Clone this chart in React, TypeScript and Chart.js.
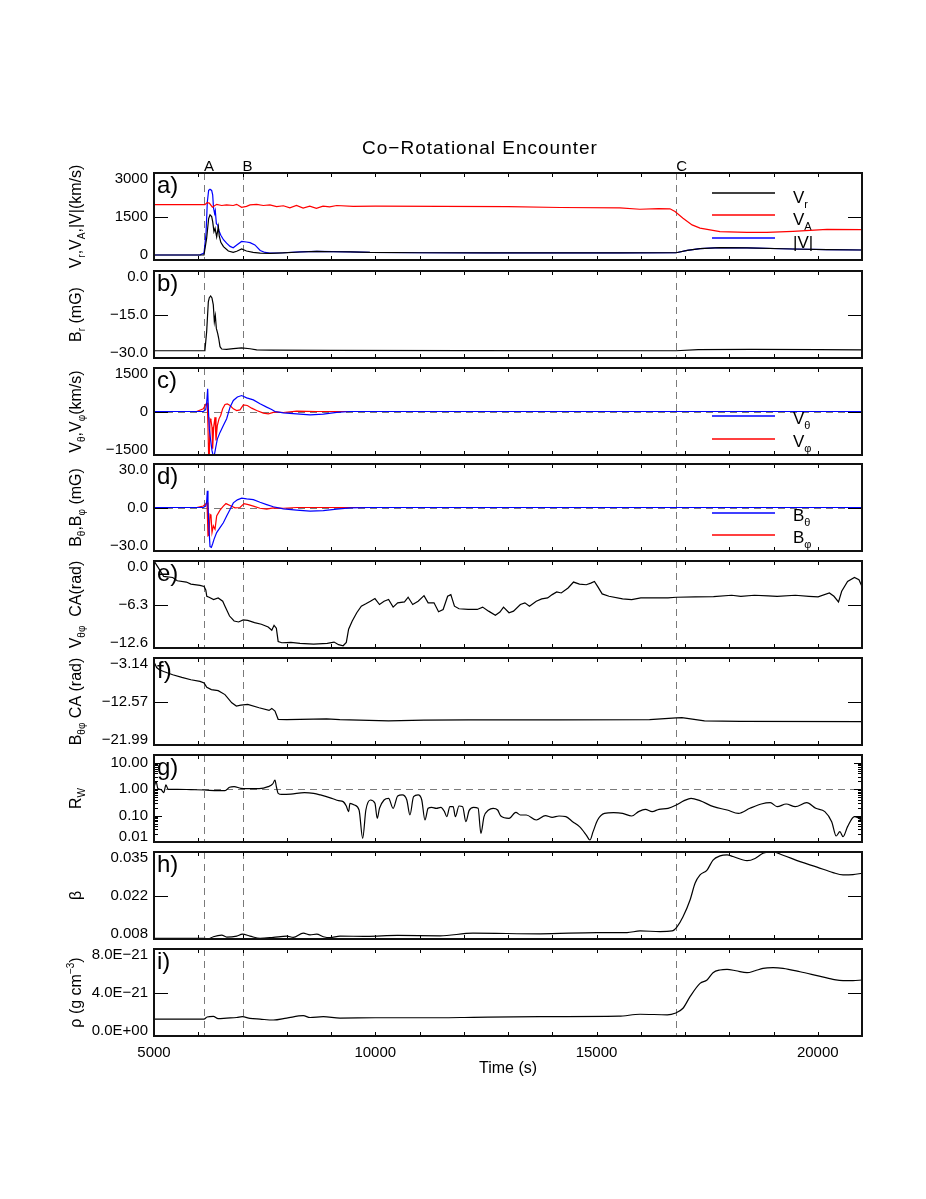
import React, { useEffect, useRef } from "react";
import { Chart, registerables } from "chart.js";

Chart.register(...registerables);

// ---------------- data ----------------
const X_MIN = 5000;
const X_MAX = 21000;
const xTickValues = [5000, 10000, 15000, 20000];
const xMinorStep = 1000;
const eventTimes = [6130, 7000, 16800];
const eventLabels = ["A", "B", "C"];

// a) velocities (km/s)
const vrTime = [5000, 6130, 6190, 6235, 6266, 6303, 6326, 6355, 6380, 6416, 6454, 6475, 6510, 6570, 6680, 6790, 6870, 6980, 7090, 7240, 7400, 7620, 7920, 8300, 8680, 9050, 9430, 9880, 11000, 12500, 14000, 15500, 16800, 17050, 17340, 17790, 18400, 19440, 20200, 21000];
const vrVals = [172, 180, 750, 1430, 1560, 1500, 1320, 980, 1090, 800, 1150, 820, 610, 460, 310, 265, 300, 380, 310, 265, 240, 230, 245, 275, 295, 285, 280, 260, 250, 245, 245, 248, 250, 330, 390, 425, 420, 380, 360, 345];
const vaTime = [5000, 6150, 6200, 6250, 6320, 6416, 6530, 6640, 6790, 6868, 6980, 7090, 7170, 7320, 7470, 7620, 7770, 7923, 8070, 8220, 8370, 8520, 8670, 8820, 8970, 9130, 9500, 10000, 11500, 13000, 14180, 15530, 15980, 16400, 16660, 16775, 16955, 17160, 17340, 17790, 18400, 18850, 19440, 20210, 21000];
const vaVals = [1910, 1910, 1975, 1960, 1820, 1920, 1880, 1900, 1880, 1920, 1815, 1850, 1900, 1920, 1880, 1900, 1840, 1870, 1800, 1880, 1790, 1860, 1780, 1860, 1830, 1880, 1850, 1860, 1850, 1840, 1810, 1800, 1750, 1770, 1765, 1670, 1440, 1210, 1100, 980, 955, 955, 990, 1055, 1045];
const vmagTime = [5000, 6040, 6130, 6175, 6205, 6235, 6266, 6303, 6326, 6345, 6370, 6385, 6410, 6440, 6470, 6510, 6570, 6640, 6720, 6790, 6870, 6980, 7090, 7170, 7280, 7400, 7510, 7620, 7920, 8300, 8680, 9050, 9430, 9880, 11000, 12500, 14000, 15500, 16800, 17050, 17340, 17790, 18400, 19440, 20200, 21000];
const vmagVals = [172, 180, 240, 900, 2000, 2400, 2440, 2400, 2250, 1800, 1600, 1700, 1250, 1200, 1000, 850, 700, 580, 470, 420, 520, 640, 620, 600, 520, 330, 260, 240, 250, 280, 300, 290, 280, 260, 250, 245, 245, 248, 250, 330, 390, 425, 420, 380, 360, 345];

// b) Br (mG)
const brTime = [5000, 6150, 6190, 6228, 6250, 6280, 6310, 6340, 6364, 6386, 6409, 6439, 6462, 6492, 6530, 6640, 6793, 6980, 7170, 7320, 7620, 9000, 12000, 16800, 17300, 18500, 20000, 21000];
const brVals = [-27.5, -27.5, -20.9, -10.6, -9.2, -8.6, -9.3, -11.7, -17.5, -15.4, -19.8, -21.5, -23.2, -26.1, -26.9, -27.0, -26.8, -26.5, -26.8, -27.2, -27.3, -27.4, -27.45, -27.5, -27.1, -27.0, -27.1, -27.2];

// c) V_theta, V_phi (km/s)
const vthTime = [5000, 6115, 6168, 6190, 6213, 6228, 6250, 6281, 6311, 6341, 6364, 6394, 6431, 6492, 6567, 6642, 6718, 6793, 6884, 6981, 7094, 7245, 7396, 7546, 7659, 7734, 7923, 8224, 8526, 8827, 9128, 9430, 21000];
const vthVals = [0, 0, 60, 300, 780, 100, -600, -1000, -1350, -1550, -1500, -1250, -950, -720, -480, -250, 150, 380, 500, 550, 470, 400, 265, 150, 70, 0, -45, -80, -115, -90, -30, 0, 0];
const vphTime = [5000, 5964, 6115, 6175, 6205, 6220, 6235, 6250, 6266, 6288, 6311, 6326, 6348, 6379, 6401, 6431, 6469, 6507, 6552, 6605, 6657, 6718, 6793, 6868, 6944, 7019, 7109, 7207, 7320, 7471, 7584, 7734, 7923, 8224, 8676, 21000];
const vphVals = [0, 0, 92, 264, 287, -540, -1550, -1550, -253, -310, -540, -1287, -540, -195, -1000, -483, -253, -138, 92, 241, 264, 207, 92, 34, 57, 230, 207, 115, 34, -57, -80, -11, -34, 11, 0, 0];

// d) B_theta, B_phi (mG)
const bthTime = [5000, 6115, 6168, 6190, 6205, 6220, 6243, 6266, 6296, 6326, 6356, 6416, 6492, 6567, 6642, 6718, 6793, 6884, 6981, 7094, 7245, 7396, 7546, 7697, 7923, 8224, 8526, 8827, 9128, 9430, 9882, 21000];
const bthVals = [0, 0, 1, 4, 11.6, 2, -15, -27, -27.5, -25, -22, -17.3, -13.9, -10.5, -5.9, -1.4, 3.2, 5.3, 6.4, 5.9, 5.4, 3.6, 2, 0.5, -0.9, -1.8, -2.5, -2.1, -1.1, -0.2, 0, 0];
const bphTime = [5000, 5964, 6115, 6168, 6198, 6220, 6243, 6266, 6288, 6311, 6341, 6379, 6416, 6492, 6567, 6627, 6718, 6831, 6944, 7034, 7132, 7245, 7396, 7546, 7697, 7923, 8224, 21000];
const bphVals = [0, 0, 1, 2.5, 3.4, -19.5, -19, -4.8, -5.5, -17.3, -12.7, -15, -5.9, -1.8, 0.9, 2.7, 1.4, -0.2, 0, 2.7, 2, 0.9, -0.5, -1.1, -0.2, -0.5, 0, 0];

// e) V_thetaphi cumulative angle (rad)
const vcaTime = [5000, 5100, 5218, 5423, 5526, 5731, 5834, 6039, 6132, 6170, 6193, 6245, 6347, 6450, 6553, 6604, 6707, 6810, 6912, 7015, 7118, 7272, 7426, 7580, 7662, 7713, 7765, 7806, 7888, 8093, 8299, 8607, 8915, 9069, 9172, 9274, 9346, 9398, 9480, 9582, 9685, 9788, 9891, 9993, 10096, 10199, 10301, 10404, 10507, 10661, 10743, 10846, 10969, 11102, 11195, 11328, 11431, 11534, 11636, 11708, 11790, 11893, 12099, 12304, 12427, 12561, 12715, 12817, 12899, 13023, 13125, 13279, 13382, 13485, 13639, 13762, 13896, 13999, 14101, 14204, 14358, 14481, 14615, 14769, 14871, 14953, 15025, 15128, 15282, 15590, 15795, 16001, 16309, 16617, 16802, 17234, 17645, 18055, 18261, 18569, 18877, 19082, 19493, 19801, 20007, 20263, 20366, 20469, 20541, 20674, 20829, 20931, 21000];
const vcaVals = [0.0, -1.0, -2.24, -2.39, -2.86, -3.05, -3.34, -3.53, -3.68, -4.2, -5.11, -5.25, -5.58, -5.35, -5.82, -6.54, -7.97, -8.69, -8.83, -8.54, -8.59, -8.93, -9.16, -9.55, -10.02, -9.31, -9.74, -11.65, -11.84, -11.79, -11.93, -12.03, -11.93, -11.74, -12.12, -12.27, -11.79, -9.88, -8.69, -7.49, -6.54, -6.2, -5.82, -5.44, -6.3, -5.82, -5.58, -6.68, -6.06, -5.92, -5.25, -6.3, -5.82, -5.01, -6.06, -6.06, -7.35, -7.02, -5.11, -4.87, -6.54, -6.92, -7.02, -7.02, -6.68, -7.26, -7.87, -7.4, -6.68, -7.49, -7.26, -6.3, -6.06, -6.54, -5.82, -5.49, -5.35, -4.87, -4.49, -4.63, -3.91, -3.05, -3.34, -3.44, -3.2, -2.96, -3.68, -4.77, -5.11, -5.49, -5.58, -5.35, -5.35, -5.35, -5.25, -5.2, -5.15, -4.96, -5.11, -4.96, -5.06, -5.11, -4.96, -5.11, -5.2, -4.63, -5.11, -5.92, -4.39, -2.96, -2.39, -2.72, -3.68];

// f) B_thetaphi cumulative angle (rad)
const bcaTime = [5000, 5060, 5120, 5218, 5423, 5629, 5834, 6039, 6132, 6193, 6296, 6450, 6604, 6758, 6861, 6963, 7118, 7375, 7600, 7662, 7734, 7806, 8000, 8900, 9200, 10300, 11100, 12100, 14100, 16200, 16802, 16930, 17440, 18260, 21000];
const bcaVals = [-4.0, -5.2, -5.7, -6.07, -6.78, -7.35, -7.85, -8.21, -8.57, -9.49, -9.99, -10.21, -11.07, -12.85, -13.56, -13.35, -13.21, -13.92, -14.49, -14.06, -14.64, -16.42, -16.49, -16.35, -16.5, -16.78, -16.6, -16.56, -16.56, -16.49, -16.13, -16.06, -16.78, -16.85, -16.92];

// g) R_W
const rwTime = [5000, 5050, 5085, 5160, 5220, 5270, 5320, 5530, 5834, 6132, 6450, 6604, 6707, 6810, 6963, 7118, 7375, 7580, 7683, 7734, 7765, 7806, 7888, 8093, 8401, 8607, 8761, 9018, 9172, 9274, 9346, 9398, 9428, 9531, 9634, 9716, 9788, 9891, 9993, 10045, 10096, 10199, 10301, 10404, 10507, 10610, 10713, 10784, 10866, 10969, 11051, 11123, 11195, 11277, 11380, 11482, 11564, 11616, 11688, 11760, 11811, 11893, 11975, 12048, 12120, 12222, 12325, 12387, 12458, 12561, 12664, 12766, 12838, 13023, 13177, 13279, 13413, 13639, 13845, 14000, 14153, 14307, 14461, 14615, 14769, 14851, 14923, 15025, 15180, 15385, 15590, 15795, 15950, 16104, 16258, 16412, 16617, 16802, 16980, 17137, 17337, 17645, 17953, 18209, 18466, 18723, 18928, 19082, 19287, 19493, 19750, 19955, 20160, 20315, 20418, 20500, 20572, 20674, 20829, 20931, 21000];
const rwVals = [1.2, 1.95, 1.09, 0.97, 0.745, 1.46, 1.0, 1.0, 0.97, 0.94, 0.89, 0.89, 1.19, 1.26, 1.09, 1.06, 1.06, 1.26, 1.59, 2.25, 1.26, 0.7, 0.64, 0.66, 0.745, 0.7, 0.61, 0.454, 0.37, 0.34, 0.232, 0.142, 0.293, 0.254, 0.164, 0.0138, 0.164, 0.393, 0.293, 0.079, 0.19, 0.393, 0.454, 0.19, 0.56, 0.61, 0.393, 0.106, 0.525, 0.61, 0.393, 0.0684, 0.19, 0.207, 0.19, 0.207, 0.142, 0.0915, 0.219, 0.219, 0.0915, 0.232, 0.219, 0.059, 0.155, 0.207, 0.19, 0.0213, 0.0915, 0.164, 0.19, 0.164, 0.097, 0.079, 0.134, 0.106, 0.106, 0.0684, 0.1, 0.0863, 0.097, 0.0915, 0.059, 0.0382, 0.0184, 0.0119, 0.0247, 0.0684, 0.122, 0.13, 0.122, 0.097, 0.142, 0.174, 0.142, 0.174, 0.19, 0.254, 0.37, 0.454, 0.37, 0.219, 0.164, 0.122, 0.19, 0.277, 0.311, 0.219, 0.277, 0.219, 0.311, 0.19, 0.142, 0.059, 0.0169, 0.0247, 0.0159, 0.0382, 0.0915, 0.079, 0.0684];

// h) plasma beta
const betaTime = [5000, 6130, 6228, 6341, 6530, 6643, 6869, 6996, 7170, 7396, 7697, 7999, 8148, 8374, 8526, 8677, 8826, 8978, 9204, 9800, 10500, 11464, 12209, 13724, 15012, 15690, 15984, 16436, 16707, 16820, 16955, 17114, 17227, 17340, 17498, 17633, 17792, 17950, 18085, 18402, 18583, 18763, 18990, 19215, 19600, 19984, 20345, 20571, 20797, 21000];
const betaVals = [0.0082, 0.0082, 0.008, 0.0087, 0.0092, 0.0086, 0.0089, 0.0095, 0.0089, 0.0082, 0.0085, 0.0089, 0.0085, 0.0098, 0.0093, 0.0095, 0.0087, 0.0084, 0.0089, 0.0088, 0.0091, 0.009, 0.0098, 0.0096, 0.01, 0.01, 0.0105, 0.0103, 0.0105, 0.0118, 0.0149, 0.0201, 0.0253, 0.0279, 0.0294, 0.0325, 0.0338, 0.0341, 0.0336, 0.0323, 0.033, 0.0346, 0.035, 0.034, 0.032, 0.0303, 0.0286, 0.0279, 0.028, 0.0284];

// i) density, in units of 1E-21 g cm^-3
const rhoTime = [5000, 6130, 6200, 6341, 6450, 6643, 6869, 6996, 7170, 7396, 7697, 7999, 8374, 8526, 8826, 9204, 10000, 11464, 12209, 13724, 15500, 15984, 16600, 16775, 16955, 17114, 17340, 17498, 17633, 17792, 17950, 18150, 18402, 18583, 18763, 18990, 19215, 19600, 19984, 20345, 20571, 20797, 21000];
const rhoE21Vals = [1.56, 1.56, 1.75, 1.81, 1.6, 1.65, 1.7, 1.78, 1.62, 1.55, 1.47, 1.65, 1.87, 1.7, 1.78, 1.65, 1.68, 1.68, 1.72, 1.78, 1.82, 2.0, 1.95, 2.09, 2.55, 3.62, 4.84, 5.15, 5.82, 6.07, 6.12, 6.0, 5.82, 6.0, 6.22, 6.28, 6.22, 5.91, 5.55, 5.21, 5.09, 5.09, 5.15];

// y tick values and labels per panel
const aTicks = [0, 1500, 3000];
const aTickLabels = ["0", "1500", "3000"];
const bTicks = [-30, -15, 0];
const bTickLabels = ["\u221230.0", "\u221215.0", "0.0"];
const cTicks = [-1500, 0, 1500];
const cTickLabels = ["\u22121500", "0", "1500"];
const dTicks = [-30, 0, 30];
const dTickLabels = ["\u221230.0", "0.0", "30.0"];
const eTicks = [-12.6, -6.3, 0];
const eTickLabels = ["\u221212.6", "\u22126.3", "0.0"];
const fTicks = [-21.99, -12.565, -3.14];
const fTickLabels = ["\u221221.99", "\u221212.57", "\u22123.14"];
const gTicks = [0.01, 0.1, 1, 10];
const gTickLabels = ["0.01", "0.10", "1.00", "10.00"];
const hTicks = [0.008, 0.0215, 0.035];
const hTickLabels = ["0.008", "0.022", "0.035"];
const iTicks = [0, 4, 8];
const iTickLabels = ["0.0E+00", "4.0E\u221221", "8.0E\u221221"];

// ---------------- layout / style ----------------
const W = 926;
const PAGE_H = 1199;
const PLOT_LEFT = 154;
const PLOT_RIGHT = 862;
const PANEL_TOPS = [173, 271, 368, 464, 561, 658, 755, 852, 949];
const PANEL_H = 87;
const PAD = 45;
const FONT = "'Liberation Sans', Arial, Helvetica, sans-serif";
const RED = "#ff0000";
const BLUE = "#0000ff";
const BLACK = "#000000";
const DASH_COLOR = "#7a7a7a";

Chart.defaults.font.family = FONT;

type Seg = { t: string; sub?: boolean; sup?: boolean };
type Series = { t: number[]; v: number[]; color: string; smooth?: boolean };
type LegendSpec = { items: { color: string; segs: Seg[] }[]; ys: number[]; textDy: number };
type Panel = {
  tag: string;
  series: Series[];
  log?: boolean;
  min: number;
  max: number;
  ticks: number[];
  tickLabels: string[];
  title: Seg[];
  hline?: number;
  legend?: LegendSpec;
};

const PANELS: Panel[] = [
  {
    tag: "a)",
    series: [
      { t: vrTime, v: vrVals, color: BLACK },
      { t: vaTime, v: vaVals, color: RED },
      { t: vmagTime, v: vmagVals, color: BLUE },
    ],
    min: 0, max: 3000, ticks: aTicks, tickLabels: aTickLabels,
    title: [{ t: "V" }, { t: "r", sub: true }, { t: "," }, { t: "V" }, { t: "A", sub: true }, { t: ",|V|(km/s)" }],
    legend: {
      items: [
        { color: BLACK, segs: [{ t: "V" }, { t: "r", sub: true }] },
        { color: RED, segs: [{ t: "V" }, { t: "A", sub: true }] },
        { color: BLUE, segs: [{ t: "|V|" }] },
      ],
      ys: [20, 42, 65],
      textDy: 10,
    },
  },
  {
    tag: "b)",
    series: [{ t: brTime, v: brVals, color: BLACK }],
    min: -30, max: 0, ticks: bTicks, tickLabels: bTickLabels,
    title: [{ t: "B" }, { t: "r", sub: true }, { t: " (mG)" }],
  },
  {
    tag: "c)",
    series: [
      { t: vthTime, v: vthVals, color: BLUE },
      { t: vphTime, v: vphVals, color: RED },
    ],
    min: -1500, max: 1500, ticks: cTicks, tickLabels: cTickLabels, hline: 0,
    title: [{ t: "V" }, { t: "\u03b8", sub: true }, { t: "," }, { t: "V" }, { t: "\u03c6", sub: true }, { t: "(km/s)" }],
    legend: {
      items: [
        { color: BLUE, segs: [{ t: "V" }, { t: "\u03b8", sub: true }] },
        { color: RED, segs: [{ t: "V" }, { t: "\u03c6", sub: true }] },
      ],
      ys: [48, 71],
      textDy: 8,
    },
  },
  {
    tag: "d)",
    series: [
      { t: bthTime, v: bthVals, color: BLUE },
      { t: bphTime, v: bphVals, color: RED },
    ],
    min: -30, max: 30, ticks: dTicks, tickLabels: dTickLabels, hline: 0,
    title: [{ t: "B" }, { t: "\u03b8", sub: true }, { t: "," }, { t: "B" }, { t: "\u03c6", sub: true }, { t: " (mG)" }],
    legend: {
      items: [
        { color: BLUE, segs: [{ t: "B" }, { t: "\u03b8", sub: true }] },
        { color: RED, segs: [{ t: "B" }, { t: "\u03c6", sub: true }] },
      ],
      ys: [49, 71],
      textDy: 8,
    },
  },
  {
    tag: "e)",
    series: [{ t: vcaTime, v: vcaVals, color: BLACK }],
    min: -12.6, max: 0, ticks: eTicks, tickLabels: eTickLabels,
    title: [{ t: "V" }, { t: "\u03b8\u03c6", sub: true }, { t: "  CA(rad)" }],
  },
  {
    tag: "f)",
    series: [{ t: bcaTime, v: bcaVals, color: BLACK }],
    min: -21.99, max: -3.14, ticks: fTicks, tickLabels: fTickLabels,
    title: [{ t: "B" }, { t: "\u03b8\u03c6", sub: true }, { t: " CA (rad)" }],
  },
  {
    tag: "g)",
    series: [{ t: rwTime, v: rwVals, color: BLACK, smooth: true }],
    log: true,
    min: 0.01, max: 20, ticks: gTicks, tickLabels: gTickLabels, hline: 1,
    title: [{ t: "R" }, { t: "W", sub: true }],
  },
  {
    tag: "h)",
    series: [{ t: betaTime, v: betaVals, color: BLACK, smooth: true }],
    min: 0.008, max: 0.035, ticks: hTicks, tickLabels: hTickLabels,
    title: [{ t: "\u03b2" }],
  },
  {
    tag: "i)",
    series: [{ t: rhoTime, v: rhoE21Vals, color: BLACK, smooth: true }],
    min: 0, max: 8, ticks: iTicks, tickLabels: iTickLabels,
    title: [{ t: "\u03c1" }, { t: " (g cm" }, { t: "\u22123", sup: true }, { t: ")" }],
  },
];

// ---------------- drawing helpers ----------------
function drawRich(
  ctx: CanvasRenderingContext2D,
  segs: Seg[],
  x: number,
  y: number,
  size: number,
  align: "left" | "center",
  rotate: boolean
) {
  ctx.save();
  ctx.translate(x, y);
  if (rotate) ctx.rotate(-Math.PI / 2);
  ctx.textAlign = "left";
  ctx.textBaseline = "alphabetic";
  ctx.fillStyle = "#000";
  const fontOf = (s: Seg) => `${s.sub || s.sup ? Math.round(size * 0.62) : size}px ${FONT}`;
  const widths = segs.map((s) => {
    ctx.font = fontOf(s);
    return ctx.measureText(s.t).width;
  });
  const total = widths.reduce((a, b) => a + b, 0);
  let cx = align === "center" ? -total / 2 : 0;
  segs.forEach((s, i) => {
    ctx.font = fontOf(s);
    const dy = s.sub ? size * 0.28 : s.sup ? -size * 0.42 : 0;
    ctx.fillText(s.t, cx, dy);
    cx += widths[i];
  });
  ctx.restore();
}

function line(ctx: CanvasRenderingContext2D, x1: number, y1: number, x2: number, y2: number) {
  ctx.beginPath();
  ctx.moveTo(x1, y1);
  ctx.lineTo(x2, y2);
  ctx.stroke();
}

function makePlugin(p: Panel, idx: number, last: boolean) {
  return {
    id: "panelDeco" + idx,
    beforeDatasetsDraw(chart: any) {
      const { ctx, chartArea: ca, scales } = chart;
      ctx.save();
      ctx.beginPath();
      ctx.rect(ca.left, ca.top, ca.right - ca.left, ca.bottom - ca.top);
      ctx.clip();
      ctx.strokeStyle = DASH_COLOR;
      ctx.lineWidth = 1;
      ctx.setLineDash([7, 5]);
      eventTimes.forEach((t) => {
        const x = Math.round(scales.x.getPixelForValue(t)) + 0.5;
        line(ctx, x, ca.top, x, ca.bottom);
      });
      if (p.hline !== undefined) {
        const y = Math.round(scales.y.getPixelForValue(p.hline)) + 0.5;
        line(ctx, ca.left, y, ca.right, y);
      }
      ctx.restore();
    },
    afterDraw(chart: any) {
      const { ctx, chartArea: ca, scales } = chart;
      const xs = scales.x;
      const ys = scales.y;
      ctx.save();
      ctx.setLineDash([]);
      ctx.strokeStyle = "#000";
      ctx.lineWidth = 1;
      // x ticks (inward, top and bottom)
      for (let t = X_MIN + xMinorStep; t < X_MAX; t += xMinorStep) {
        const x = Math.round(xs.getPixelForValue(t)) + 0.5;
        line(ctx, x, ca.top, x, ca.top + 4);
        line(ctx, x, ca.bottom, x, ca.bottom - 4);
      }
      // y ticks (inward, left and right)
      if (p.log) {
        p.ticks.forEach((v) => {
          const y = Math.round(ys.getPixelForValue(v)) + 0.5;
          line(ctx, ca.left, y, ca.left + 8, y);
          line(ctx, ca.right, y, ca.right - 8, y);
          for (let k = 2; k <= 9; k++) {
            const mv = v * k;
            if (mv >= p.max) break;
            const my = Math.round(ys.getPixelForValue(mv)) + 0.5;
            line(ctx, ca.left, my, ca.left + 4, my);
            line(ctx, ca.right, my, ca.right - 4, my);
          }
        });
      } else {
        p.ticks.forEach((v) => {
          const y = Math.round(ys.getPixelForValue(v)) + 0.5;
          line(ctx, ca.left, y, ca.left + 14, y);
          line(ctx, ca.right, y, ca.right - 14, y);
        });
      }
      // frame
      ctx.lineWidth = 2;
      ctx.strokeStyle = "#111";
      ctx.strokeRect(ca.left, ca.top, ca.right - ca.left, ca.bottom - ca.top);

      // panel tag
      ctx.fillStyle = "#000";
      ctx.font = `24px ${FONT}`;
      ctx.textAlign = "left";
      ctx.textBaseline = "alphabetic";
      ctx.fillText(p.tag, ca.left + 3, ca.top + 20);

      // y axis title
      drawRich(ctx, p.title, 81, (ca.top + ca.bottom) / 2, 16, "center", true);

      // legend
      if (p.legend) {
        const lg = p.legend;
        lg.items.forEach((it, j) => {
          const y = ca.top + lg.ys[j];
          ctx.save();
          ctx.strokeStyle = it.color;
          ctx.lineWidth = 1.3;
          line(ctx, 712, y, 775, y);
          ctx.restore();
          drawRich(ctx, it.segs, 793, y + lg.textDy, 17, "left", false);
        });
      }

      // title and event labels on the top panel
      if (idx === 0) {
        ctx.fillStyle = "#000";
        ctx.font = `19px ${FONT}`;
        ctx.textAlign = "center";
        (ctx as any).letterSpacing = "1px";
        ctx.fillText("Co\u2212Rotational Encounter", 480, ca.top - 19);
        (ctx as any).letterSpacing = "0px";
        ctx.font = `15px ${FONT}`;
        ctx.textAlign = "left";
        eventTimes.forEach((t, j) => {
          const x = xs.getPixelForValue(t);
          ctx.fillText(eventLabels[j], x, ca.top - 2);
        });
      }
      if (last) {
        ctx.fillStyle = "#000";
        ctx.font = `16px ${FONT}`;
        ctx.textAlign = "center";
        ctx.fillText("Time (s)", (ca.left + ca.right) / 2, ca.bottom + 37);
      }
      ctx.restore();
    },
  };
}

function buildChart(canvas: HTMLCanvasElement, p: Panel, idx: number, last: boolean) {
  const datasets = p.series.map((s) => ({
    data: s.t.map((t, k) => ({ x: t, y: s.v[k] })),
    borderColor: s.color,
    borderWidth: 1.2,
    pointRadius: 0,
    fill: false,
    tension: 0,
    cubicInterpolationMode: s.smooth ? "monotone" : "default",
  }));
  const nT = p.ticks.length;
  const xScale: any = {
    type: "linear",
    min: X_MIN,
    max: X_MAX,
    bounds: "data",
    display: last,
    grid: { display: false, drawTicks: false },
    border: { display: false },
    ticks: {
      color: "#000",
      font: { family: FONT, size: 15 },
      padding: 8,
      maxRotation: 0,
      autoSkip: false,
      callback: (v: any) => String(v),
    },
    afterBuildTicks: (s: any) => {
      s.ticks = xTickValues.map((v) => ({ value: v }));
    },
  };
  if (last) {
    xScale.afterFit = (s: any) => {
      s.height = PAD;
    };
  }
  const yScale: any = {
    type: p.log ? "logarithmic" : "linear",
    min: p.min,
    max: p.max,
    bounds: "data",
    grid: { display: false, drawTicks: false },
    border: { display: false },
    ticks: {
      color: "#000",
      font: { family: FONT, size: 15, lineHeight: "11px" },
      padding: 6,
      autoSkip: false,
      callback: (_v: any, i: number) => {
        const lbl = p.tickLabels[i];
        if (i === 0) return [lbl, ""];
        if (i === nT - 1 && !p.log) return ["", lbl];
        return lbl;
      },
    },
    afterBuildTicks: (s: any) => {
      s.ticks = p.ticks.map((v) => ({ value: v }));
    },
    afterFit: (s: any) => {
      s.width = PLOT_LEFT;
    },
  };
  return new Chart(canvas, {
    type: "line",
    data: { datasets } as any,
    options: {
      responsive: false,
      animation: false,
      devicePixelRatio: 1,
      events: [],
      layout: { padding: { left: 0, right: W - PLOT_RIGHT, top: PAD, bottom: last ? 0 : PAD } },
      plugins: { legend: { display: false }, tooltip: { enabled: false }, title: { display: false } },
      scales: { x: xScale, y: yScale },
    } as any,
    plugins: [makePlugin(p, idx, last)],
  });
}

export default function App() {
  const refs = useRef<(HTMLCanvasElement | null)[]>([]);
  useEffect(() => {
    const charts = PANELS.map((p, i) => buildChart(refs.current[i] as HTMLCanvasElement, p, i, i === PANELS.length - 1));
    return () => charts.forEach((c) => c.destroy());
  }, []);
  const h = PANEL_H + 2 * PAD;
  return (
    <div style={{ position: "absolute", left: 0, top: 0, width: W, height: PAGE_H, background: "#fff", overflow: "hidden" }}>
      {PANELS.map((p, i) => (
        <canvas
          key={p.tag}
          ref={(el) => {
            refs.current[i] = el;
          }}
          width={W}
          height={h}
          style={{ position: "absolute", left: 0, top: PANEL_TOPS[i] - PAD, width: W, height: h }}
        />
      ))}
    </div>
  );
}
